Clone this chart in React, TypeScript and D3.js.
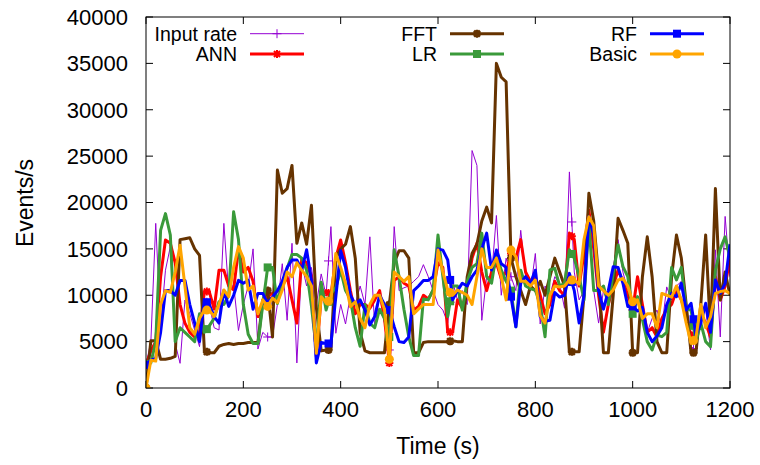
import React from 'react';
import * as d3 from 'd3';

// time axis (s), one sample every 10 s
const times = d3.range(0, 1201, 10);

const inputRate = [
  2500, 5000, 17750, 6600, 12700, 15240, 4800, 2660, 9490, 8000,
  6250, 4460, 9500, 9000, 6500, 6250, 17750, 10200, 11200, 6200,
  9000, 11000, 15000, 4200, 6000, 5500, 5500, 9000, 13400, 7300,
  15600, 2700, 13400, 11000, 13000, 9000, 12300, 10000, 17400, 5900,
  9000, 6900, 10000, 9000, 11000, 9000, 16300, 6500, 10000, 7000,
  4100, 17400, 10500, 10800, 11000, 11500, 12000, 13300, 12000, 10500,
  9000, 8400, 7000, 11500, 9500, 10500, 9000, 25600, 24000, 7300,
  12000, 12000, 18600, 10000, 14000, 12000, 10500, 17000, 12000, 10500,
  14500, 6900, 11000, 10000, 12000, 11200, 8600, 23300, 12500, 9500,
  10500, 18000, 10500, 7000, 10500, 9000, 13000, 16000, 12500, 10500,
  9000, 9500, 8000, 6000, 7500, 8400, 6500, 10900, 9500, 11000,
  11500, 8400, 4500, 4000, 9000, 8500, 4100, 14900, 5500, 18500,
  12000,
];

const ann = [
  2500, 4000, 5000, 12000, 15960, 15600, 13500, 9000, 7000, 6000,
  5500, 6000, 10400, 10400, 8500, 12700, 12700, 11000, 10600, 15000,
  12500, 13000, 11500, 7700, 9000, 10000, 10200, 10500, 11000, 12000,
  9500, 7000, 13900, 13500, 12000, 3400, 9800, 10500, 10000, 14000,
  15960, 13500, 10500, 8000, 9000, 9000, 8600, 9500, 10500, 7500,
  2700, 11600, 12000, 11300, 11000, 8400, 8800, 10000, 9600, 10500,
  13500, 13000, 6000, 6000, 9500, 8600, 11000, 14000, 15600, 12500,
  10500, 12500, 13500, 11800, 12500, 14500, 14000, 16000, 12500, 11500,
  12000, 10000, 8000, 9000, 11500, 10500, 10000, 16700, 16000, 11000,
  14500, 19200, 15000, 10000, 6000, 9000, 11000, 12700, 11500, 10000,
  8400, 12000, 9000, 6000, 6500, 5500, 7500, 8500, 9000, 10500,
  9500, 8000, 5500, 6000, 8000, 7000, 5500, 12000, 9500, 11000,
  14000,
];

const fft = [
  0, 5100, 5100, 3100, 3100, 3200, 3400, 16000, 16100, 16200,
  15000, 14300, 4000, 3800, 3800, 4500, 4700, 4800, 4700, 4800,
  4800, 4900, 4900, 4900, 9500, 10500, 5500, 23500, 21000, 21500,
  24000, 15600, 17800, 15500, 19700, 8700, 4000, 4100, 4100, 14000,
  15000, 15500, 17400, 14000, 6000, 4000, 3800, 3800, 3800, 3800,
  9000, 13500, 14800, 14800, 14000, 3800, 3800, 4900, 5000, 5000,
  5000, 5000, 5000, 5100, 5000, 5000, 12000, 14500, 15500, 18000,
  19500, 17800, 35000, 33500, 33000, 14000, 12000, 10500, 9000, 11000,
  10500, 11500, 10000, 12000, 14000, 12500, 11000, 3900, 3900, 3900,
  10000, 21000, 18000, 12000, 3800, 3800, 10000, 18300, 17000, 15600,
  3800, 3800, 12000, 16300, 12000, 5000, 3800, 3800, 12000, 16500,
  14000, 9000, 3800, 3800, 9000, 16500, 6000, 21500, 9500, 12500,
  10000,
];

const lr = [
  2600, 2700, 5000, 17000, 18800, 16500, 5000, 6500, 6000, 5500,
  5000, 8000, 6000, 6700, 7500, 9300, 9000, 10000, 19000, 16000,
  9000, 5800, 4800, 4800, 9000, 13000, 13000, 9100, 11300, 12900,
  14400, 14400, 14000, 12700, 8800, 4100, 11400, 8400, 10200, 10800,
  12700, 10500, 9600, 6500, 4500, 9000, 7000, 6500, 8500, 7500,
  5500, 14900, 12000, 8500, 5500, 3500, 3500, 9600, 9500, 10600,
  16500, 12000, 7700, 11000, 11000, 8400, 11500, 13000, 13400, 16700,
  12000, 11300, 14500, 12700, 11500, 10500, 6600, 12700, 11000, 10700,
  10570, 9000, 5530, 12720, 12900, 11000, 11300, 14900, 14000, 12000,
  9500, 17750, 10500, 10500, 11000, 9000, 12360, 15420, 13080, 12000,
  8000, 9850, 7400, 5000, 4100, 5700, 5540, 6000, 13000, 11650,
  13000, 8500, 8400, 5000, 7000, 5000, 4460, 12720, 15000, 16300,
  14000,
];

const rf = [
  2500, 3000, 3200, 6000, 10500, 10500, 10000, 11600, 11600, 9000,
  7000, 5000, 9500, 9000, 7700, 7000, 10500, 8800, 10000, 11600,
  11300, 11600, 8500, 10200, 10200, 9100, 9800, 10500, 11500, 13000,
  13800, 13800, 12700, 14900, 11600, 2700, 4900, 4800, 4800, 9800,
  14800, 13000, 10000, 9000, 9500, 8400, 6800, 7700, 10000, 9000,
  8400, 6600, 5000, 4900, 5500, 10500, 11000, 11600, 11600, 12000,
  15000, 14870, 13800, 9500, 10500, 11300, 11000, 12000, 12720, 15000,
  16700, 12720, 14870, 13400, 13000, 9850, 6600, 11300, 12000, 11300,
  12700, 7690, 7200, 7300, 10300, 9800, 10000, 12360, 10500, 7000,
  10000, 18470, 16500, 10500, 8500, 10500, 13080, 13000, 11300, 8800,
  8800, 8300, 8700, 6000, 5000, 5600, 6500, 9000, 10200, 9850,
  11290, 8410, 9130, 5700, 7000, 9130, 6000, 11650, 10200, 11290,
  15500,
];

const basic = [
  0, 3000, 2900, 9000, 10500, 10300, 12500, 15400, 11000, 6500,
  5800, 7500, 8400, 8400, 7700, 9000, 10570, 9850, 13000, 15240,
  14000, 10560, 11000, 8000, 9500, 8800, 9700, 9200, 10560, 12500,
  12000, 13500, 12700, 12000, 11000, 3740, 9850, 9200, 9500, 14500,
  13000, 11290, 8770, 9300, 7500, 6500, 9000, 10000, 10000, 8500,
  3100, 12500, 12000, 11500, 12000, 8000, 8500, 9000, 9000, 9000,
  14870, 12500, 10570, 10000, 10570, 10300, 10000, 9000, 12000, 15000,
  13000, 13000, 14000, 12000, 9500, 14870, 14160, 11500, 11500, 11000,
  11640, 7800, 7000, 10000, 11000, 10900, 11000, 11640, 11640, 11200,
  16000, 18470, 17500, 11000, 10500, 10000, 10570, 11640, 11800, 11000,
  9300, 9500, 7500, 8000, 8000, 6500, 10200, 10000, 9800, 11000,
  9500, 7000, 4820, 5400, 9000, 6500, 7690, 10200, 10400, 10500,
  10200,
];

const seriesNames = ['Input rate', 'ANN', 'FFT', 'LR', 'RF', 'Basic'];
const xTicks = [0, 200, 400, 600, 800, 1000, 1200];
const yTicks = [0, 5000, 10000, 15000, 20000, 25000, 30000, 35000, 40000];
const markerTimes = [0, 125, 250, 375, 500, 625, 750, 875, 1000, 1125];

const W = 760;
const H = 465;
const PL = 146;
const PR = 730;
const PT = 17;
const PB = 388;
const FONT = '"Liberation Sans", Arial, Helvetica, sans-serif';

type Marker = 'plus' | 'star' | 'square' | 'circle';

const styles: { color: string; width: number; marker: Marker; mw: number }[] = [
  { color: '#9400d3', width: 1, marker: 'plus', mw: 1 },
  { color: '#ff0000', width: 3, marker: 'star', mw: 2 },
  { color: '#663300', width: 3, marker: 'star', mw: 2.5 },
  { color: '#3a9a3a', width: 3, marker: 'square', mw: 0 },
  { color: '#0000ff', width: 3, marker: 'square', mw: 0 },
  { color: '#ffa500', width: 3, marker: 'circle', mw: 0 },
];

function drawMarker(type: Marker, cx: number, cy: number, color: string, sw: number, key: string) {
  if (type === 'plus') {
    const s = 4.5;
    return <path key={key} d={`M${cx - s},${cy}H${cx + s}M${cx},${cy - s}V${cy + s}`} stroke={color} strokeWidth={sw} fill="none" />;
  }
  if (type === 'star') {
    const s = 4;
    return (
      <path key={key}
        d={`M${cx - s},${cy}H${cx + s}M${cx},${cy - s}V${cy + s}M${cx - s * 0.75},${cy - s * 0.75}L${cx + s * 0.75},${cy + s * 0.75}M${cx - s * 0.75},${cy + s * 0.75}L${cx + s * 0.75},${cy - s * 0.75}`}
        stroke={color} strokeWidth={sw} fill="none" />
    );
  }
  if (type === 'square') {
    return <rect key={key} x={cx - 4} y={cy - 4} width={8} height={8} fill={color} />;
  }
  return <circle key={key} cx={cx} cy={cy} r={4.5} fill={color} />;
}

export default function App() {
  const x = d3.scaleLinear().domain([0, 1200]).range([PL, PR]);
  const y = d3.scaleLinear().domain([0, 40000]).range([PB, PT]);
  const allSeries = [inputRate, ann, fft, lr, rf, basic];

  const lineGen = d3.line<number>().x((_, i) => x(times[i])).y((d) => y(d));
  const valueAt = (vals: number[], t: number) => {
    const interp = d3.scaleLinear().domain(times).range(vals);
    return interp(t);
  };

  const keyCols = [237, 437, 637];
  const keyRows = [33.7, 54];

  return (
    <svg width={W} height={H} style={{ position: 'absolute', left: 0, top: 0, background: '#fff' }} fontFamily={FONT}>
      <rect x={0} y={0} width={W} height={H} fill="#fff" />
      <defs>
        <clipPath id="plotclip">
          <rect x={PL} y={PT} width={PR - PL} height={PB - PT} />
        </clipPath>
      </defs>

      {/* ticks */}
      {yTicks.map((t) => (
        <g key={'yt' + t}>
          <line x1={PL} x2={PL + 7} y1={y(t)} y2={y(t)} stroke="#000" strokeWidth={1} />
          <line x1={PR} x2={PR - 7} y1={y(t)} y2={y(t)} stroke="#000" strokeWidth={1} />
          <text x={128} y={y(t) + 7.8} textAnchor="end" fontSize={22} fill="#000">{t}</text>
        </g>
      ))}
      {xTicks.map((t) => (
        <g key={'xt' + t}>
          <line x1={x(t)} x2={x(t)} y1={PB} y2={PB - 7} stroke="#000" strokeWidth={1} />
          <line x1={x(t)} x2={x(t)} y1={PT} y2={PT + 7} stroke="#000" strokeWidth={1} />
          <text x={x(t)} y={417} textAnchor="middle" fontSize={22} fill="#000">{t}</text>
        </g>
      ))}

      {/* series */}
      <g clipPath="url(#plotclip)">
        {allSeries.map((vals, si) => {
          const st = styles[si];
          return (
            <g key={'s' + si}>
              <path d={lineGen(vals) || ''} fill="none" stroke={st.color} strokeWidth={st.width} strokeLinejoin="round" />
              {markerTimes.map((t, mi) => drawMarker(st.marker, x(t), y(valueAt(vals, t)), st.color, st.mw, `m${si}-${mi}`))}
            </g>
          );
        })}
      </g>

      {/* border */}
      <rect x={PL} y={PT} width={PR - PL} height={PB - PT} fill="none" stroke="#000" strokeWidth={1} />

      {/* key */}
      {seriesNames.map((name, si) => {
        const col = Math.floor(si / 2);
        const row = si % 2;
        const st = styles[si];
        const tx = keyCols[col];
        const ty = keyRows[row];
        return (
          <g key={'k' + si}>
            <text x={tx} y={ty + 6.8} textAnchor="end" fontSize={19.5} fill="#000">{name}</text>
            <line x1={tx + 13} x2={tx + 67} y1={ty} y2={ty} stroke={st.color} strokeWidth={st.width} />
            {drawMarker(st.marker, tx + 40, ty, st.color, st.mw, 'km' + si)}
          </g>
        );
      })}

      {/* axis labels */}
      <text x={438} y={454} textAnchor="middle" fontSize={23} fill="#000">Time (s)</text>
      <text transform="translate(33,203) rotate(-90)" textAnchor="middle" fontSize={23} fill="#000">Events/s</text>
    </svg>
  );
}
